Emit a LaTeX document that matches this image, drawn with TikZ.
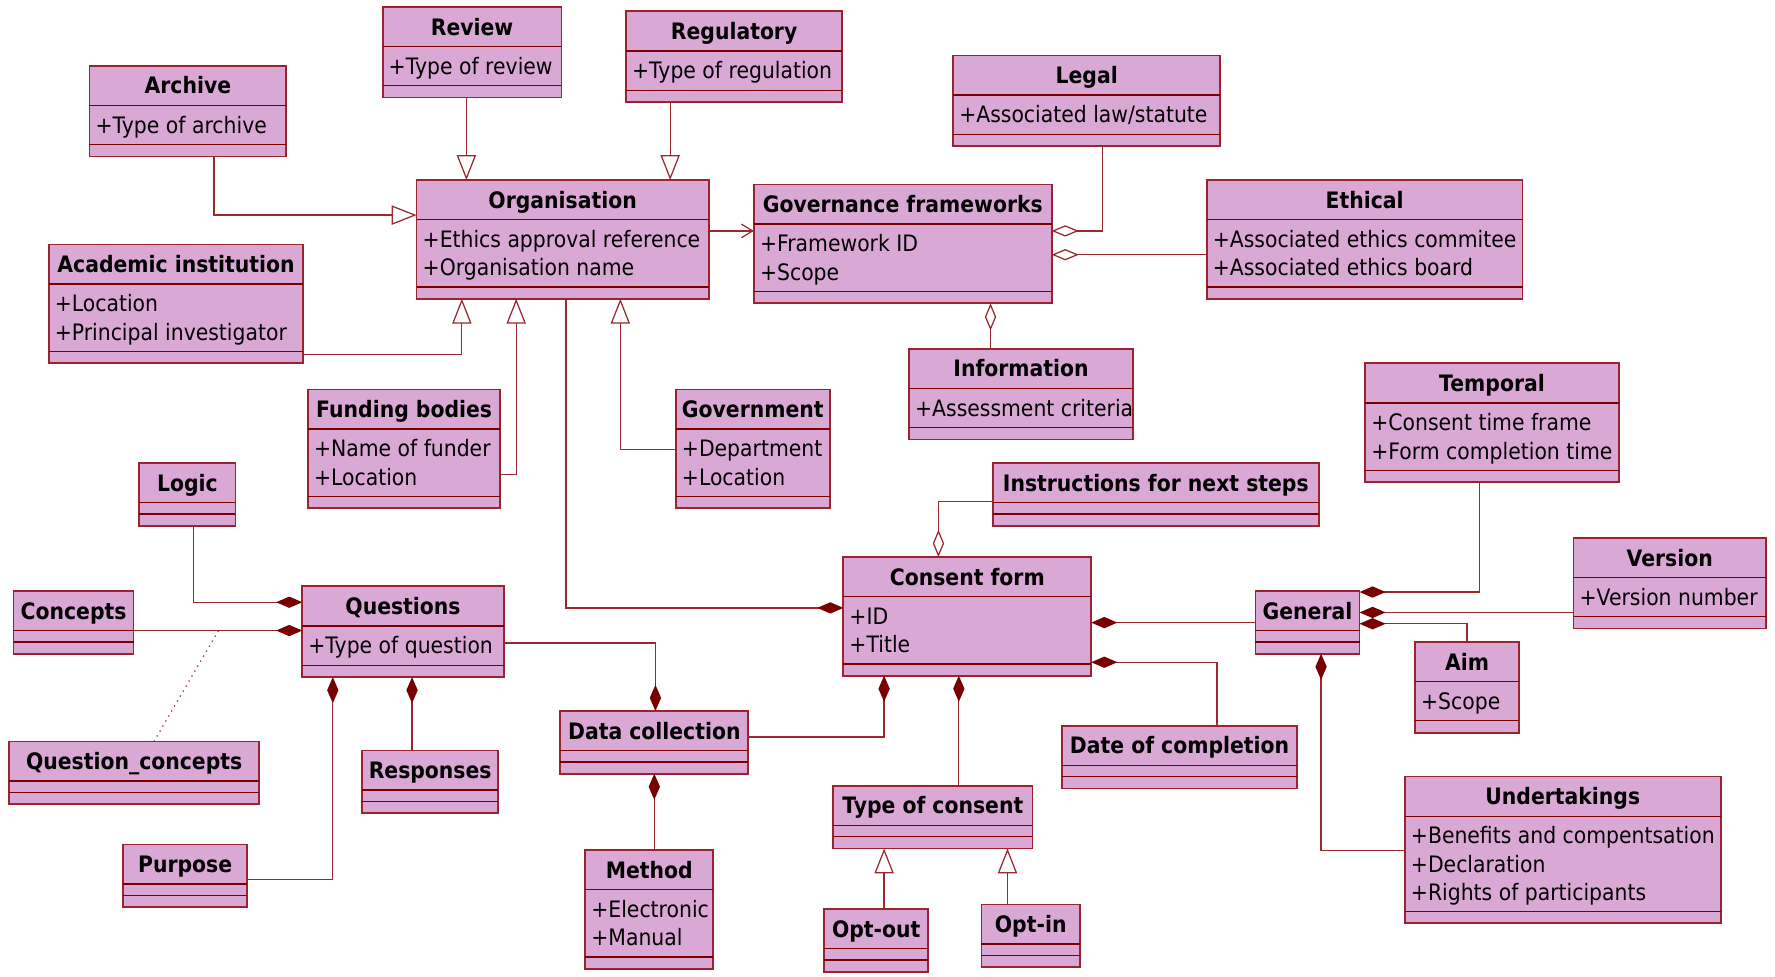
\documentclass[tikz,border=0pt]{standalone}
\usepackage{fontspec}
\setmainfont{DejaVu Sans}[FakeStretch=0.9]
\usetikzlibrary{arrows.meta}
\definecolor{umlfill}{RGB}{218,168,212}
\definecolor{umlborder}{RGB}{155,35,45}
\definecolor{umlline}{RGB}{155,40,45}
\definecolor{umldark}{RGB}{122,0,0}
\newcommand\umlsize{\fontsize{10pt}{12.5pt}\selectfont}
\tikzset{
  umlbox/.style={draw=umlborder, fill=umlfill, line width=0.8pt, inner sep=0pt, outer sep=0pt, rectangle},
  divline/.style={draw=umldark, line width=0.6pt},
  umltitle/.style={anchor=base, inner sep=0pt, font=\umlsize\bfseries},
  umlattr/.style={anchor=base west, inner sep=0pt, font=\umlsize},
  conn/.style={draw=umlline, line width=0.55pt},
  gen/.style={conn, -{Triangle[open, length=11pt, width=8.5pt]}},
  comp/.style={conn, -{Diamond[length=11.5pt, width=5pt, color=umldark, fill=umldark]}},
  oagg/.style={conn, -{Diamond[open, length=12pt, width=5pt]}},
  nav/.style={conn, -{Straight Barb[length=5pt, width=6pt]}},
  qdot/.style={conn, dotted}
}
% name, x1, y1, x2, number of attributes, title, attributes
\newcommand\umlcls[7]{%
  \pgfmathsetmacro\uA{#3+35}%
  \pgfmathsetmacro\uB{\uA+10+24.7*#5}%
  \pgfmathsetmacro\uC{\uB+10.5}%
  \pgfmathsetmacro\uW{(#4-#2)*0.5}%
  \pgfmathsetmacro\uH{(\uC-#3)*0.5}%
  \pgfmathsetmacro\uM{(#2+#4)/2}%
  \node[umlbox, minimum width=\uW pt, minimum height=\uH pt, anchor=north west] (#1) at (#2,#3) {};
  \draw[divline] (#2,\uA) -- (#4,\uA) (#2,\uB) -- (#4,\uB);
  \node[umltitle] (#1-t) at (\uM,#3+25) {#6};
  \ifnum#5>0
    \foreach \tx [count=\ti] in {#7} {\node[umlattr] (#1-a\ti) at (#2+5,\uA+25*\ti-0.5) {\tx};}
  \fi
}
\begin{document}
\begin{tikzpicture}[x=0.5pt, y=-0.5pt]
\useasboundingbox[fill=white] (0,0) rectangle (1568,863);

\umlcls{review}{338}{6}{496}{1}{Review}{+Type of review}
\umlcls{regul}{553}{10}{744}{1}{Regulatory}{+Type of regulation}
\umlcls{archive}{79}{58}{253}{1}{Archive}{+Type of archive}
\umlcls{legal}{842}{49}{1078}{1}{Legal}{+Associated law/statute}
\umlcls{org}{368}{159}{626}{2}{Organisation}{+Ethics approval reference,+Organisation name}
\umlcls{gf}{666}{163}{929}{2}{Governance frameworks}{+Framework ID,+Scope}
\umlcls{ethical}{1066}{159}{1345}{2}{Ethical}{+Associated ethics commitee,+Associated ethics board}
\umlcls{acad}{43}{216}{268}{2}{Academic institution}{+Location,+Principal investigator}
\umlcls{info}{803}{308}{1001}{1}{Information}{+Assessment criteria}
\umlcls{fund}{272}{344}{442}{2}{Funding bodies}{+Name of funder,+Location}
\umlcls{gov}{597}{344}{733}{2}{Government}{+Department,+Location}
\umlcls{temporal}{1206}{321}{1430}{2}{Temporal}{+Consent time frame,+Form completion time}
\umlcls{logic}{123}{409}{208}{0}{Logic}{}
\umlcls{instr}{877}{409}{1165}{0}{Instructions for next steps}{}
\umlcls{version}{1390}{475}{1560}{1}{Version}{+Version number}
\umlcls{concepts}{12}{522}{118}{0}{Concepts}{}
\umlcls{quest}{267}{518}{445}{1}{Questions}{+Type of question}
\umlcls{cf}{745}{492}{964}{2}{Consent form}{+ID,+Title}
\umlcls{general}{1109}{522}{1201}{0}{General}{}
\umlcls{aim}{1250}{567}{1342}{1}{Aim}{+Scope}
\umlcls{dc}{495}{628}{661}{0}{Data collection}{}
\umlcls{doc}{938}{641}{1146}{0}{Date of completion}{}
\umlcls{qc}{8}{655}{229}{0}{Question\_concepts}{}
\umlcls{resp}{320}{663}{440}{0}{Responses}{}
\umlcls{toc}{736}{694}{912}{0}{Type of consent}{}
\umlcls{undert}{1241}{686}{1520}{3}{Undertakings}{+Benefits and compentsation,+Declaration,+Rights of participants}
\umlcls{purpose}{109}{746}{218}{0}{Purpose}{}
\umlcls{method}{517}{751}{630}{2}{Method}{+Electronic,+Manual}
\umlcls{optout}{728}{803}{820}{0}{Opt-out}{}
\umlcls{optin}{867}{799}{954}{0}{Opt-in}{}

% generalisations
\draw[gen] (review.south -| 412,0) -- (org.north -| 412,0);
\draw[gen] (regul.south -| 592,0) -- (org.north -| 592,0);
\draw[gen] (archive.south -| 189,0) |- (org.west |- 0,190);
\draw[gen] (acad.east |- 0,313) -| (org.south -| 408,0);
\draw[gen] (fund.east |- 0,419) -| (org.south -| 456,0);
\draw[gen] (gov.west |- 0,397) -| (org.south -| 548,0);
\draw[gen] (optout.north -| 781,0) -- (toc.south -| 781,0);
\draw[gen] (optin.north -| 890,0) -- (toc.south -| 890,0);
% association
\draw[nav] (org.east |- 0,204) -- (gf.west |- 0,204);
% aggregations
\draw[oagg] (legal.south -| 974,0) |- (gf.east |- 0,204);
\draw[oagg] (ethical.west |- 0,225) -- (gf.east |- 0,225);
\draw[oagg] (info.north -| 875,0) -- (gf.south -| 875,0);
\draw[oagg] (instr.west |- 0,443) -| (cf.north -| 829,0);
% compositions
\draw[comp] (org.south -| 500,0) |- (cf.west |- 0,537);
\draw[comp] (logic.south -| 171,0) |- (quest.west |- 0,532);
\draw[comp] (concepts.east |- 0,557) -- (quest.west |- 0,557);
\draw[comp] (quest.east |- 0,568) -| (dc.north -| 579,0);
\draw[comp] (resp.north -| 364,0) -- (quest.south -| 364,0);
\draw[comp] (purpose.east |- 0,777) -| (quest.south -| 294,0);
\draw[comp] (method.north -| 578,0) -- (dc.south -| 578,0);
\draw[comp] (dc.east |- 0,651) -| (cf.south -| 781,0);
\draw[comp] (toc.north -| 847,0) -- (cf.south -| 847,0);
\draw[comp] (general.west |- 0,550) -- (cf.east |- 0,550);
\draw[comp] (doc.north -| 1075,0) |- (cf.east |- 0,585);
\draw[comp] (temporal.south -| 1307,0) |- (general.east |- 0,523);
\draw[comp] (version.west |- 0,541) -- (general.east |- 0,541);
\draw[comp] (aim.north -| 1296,0) |- (general.east |- 0,551);
\draw[comp] (undert.west |- 0,751) -| (general.south -| 1167,0);
% association class link
\coordinate (qcj) at (193,557);
\draw[qdot] (qc.north -| 136,0) -- (qcj);
\end{tikzpicture}
\end{document}
